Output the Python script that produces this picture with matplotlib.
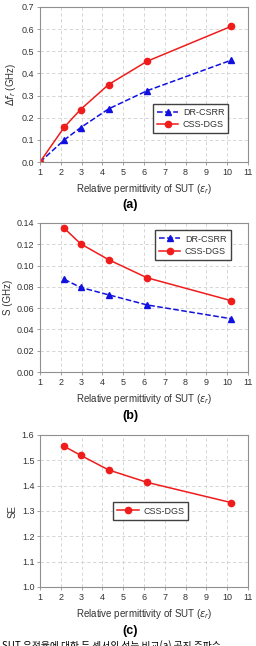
import matplotlib
matplotlib.use('Agg')
from matplotlib import pyplot as plt

plt.rcParams['font.family'] = ['Liberation Sans', 'DejaVu Sans']

# data
eps_a = [1, 2.17, 2.95, 4.3, 6.15, 10.2]
dr_a = [0, 0.10, 0.155, 0.24, 0.322, 0.46]
css_a = [0, 0.158, 0.237, 0.35, 0.455, 0.613]

eps_b = [2.17, 2.95, 4.3, 6.15, 10.2]
dr_b = [0.087, 0.0795, 0.0725, 0.063, 0.050]
css_b = [0.135, 0.1205, 0.1055, 0.0885, 0.067]

se_c = [1.555, 1.52, 1.462, 1.413, 1.333]

W, H = 256, 646
fig = plt.figure(figsize=(W / 100, H / 100), dpi=100)


def make_ax(top, bottom, left=40, right=248):
    return fig.add_axes([left / W, 1 - bottom / H, (right - left) / W, (bottom - top) / H])


def style(ax, ylim, yticks, fmt):
    ax.set_xlim(1, 11)
    ax.set_xticks(range(1, 12))
    ax.set_ylim(*ylim)
    ax.set_yticks(yticks)
    ax.set_yticklabels([fmt.format(v) for v in yticks])
    ax.grid(True, ls=(0, (4, 3)), color='#d0d0d0', lw=0.6)
    ax.set_axisbelow(True)
    for s in ax.spines.values():
        s.set_color('#909090')
        s.set_linewidth(0.8)
    ax.tick_params(labelsize=6.5, length=2, width=0.6, color='#909090', pad=2,
                   labelcolor='#333333')
    ax.set_xlabel('Relative permittivity of SUT ($\\epsilon_r$)', fontsize=7, labelpad=4,
                  color='#333333')


blue = dict(color='#1010e0', ls='--', marker='^', ms=4, lw=1.1, label='DR-CSRR')
red = dict(color='#f01c1c', ls='-', marker='o', ms=4.5, lw=1.1, label='CSS-DGS')
leg = dict(fontsize=6.5, frameon=True, fancybox=False, edgecolor='#404040',
           handlelength=2.4, handletextpad=0.5, borderpad=0.45, labelspacing=0.35,
           labelcolor='#333333', framealpha=1)

# (a)
ax1 = make_ax(7, 162)
ax1.plot(eps_a, dr_a, **blue)
ax1.plot(eps_a, css_a, **red)
style(ax1, (0, 0.7), [0, 0.1, 0.2, 0.3, 0.4, 0.5, 0.6, 0.7], '{:.1f}')
ax1.set_ylabel('$\\Delta f_r$ (GHz)', fontsize=7, labelpad=3, color='#333333')
ax1.legend(loc='center left', bbox_to_anchor=(0.52, 0.28), **leg)
fig.text(130 / W, 1 - 205 / H, '(a)', ha='center', va='center', fontsize=9, fontweight='bold')

# (b)
ax2 = make_ax(223, 372)
ax2.plot(eps_b, dr_b, **blue)
ax2.plot(eps_b, css_b, **red)
style(ax2, (0, 0.14), [0, 0.02, 0.04, 0.06, 0.08, 0.10, 0.12, 0.14], '{:.2f}')
ax2.set_ylabel('S (GHz)', fontsize=7, labelpad=3, color='#333333')
ax2.legend(loc='upper left', bbox_to_anchor=(0.53, 0.98), **leg)
fig.text(130 / W, 1 - 416 / H, '(b)', ha='center', va='center', fontsize=9, fontweight='bold')

# (c)
ax3 = make_ax(435, 587)
ax3.plot(eps_b, se_c, color='#f01c1c', ls='-', marker='o', ms=4.5, lw=1.1, label='CSS-DGS')
style(ax3, (1.0, 1.6), [1.0, 1.1, 1.2, 1.3, 1.4, 1.5, 1.6], '{:.1f}')
ax3.set_ylabel('SE', fontsize=7, labelpad=3, color='#333333')
ax3.legend(loc='center left', bbox_to_anchor=(0.33, 0.50), **leg)
fig.text(130 / W, 1 - 631 / H, '(c)', ha='center', va='center', fontsize=9, fontweight='bold')

# caption line, cut off at the bottom edge as in the reference
fig.text(2 / W, 1 - 640 / H, 'SUT 유전율에 대한 두 센서의 성능 비교(a) 공진 주파수',
         ha='left', va='top', fontsize=7,
         family=['Noto Sans CJK KR', 'DejaVu Sans'])

fig.savefig('out.png', dpi=100)
